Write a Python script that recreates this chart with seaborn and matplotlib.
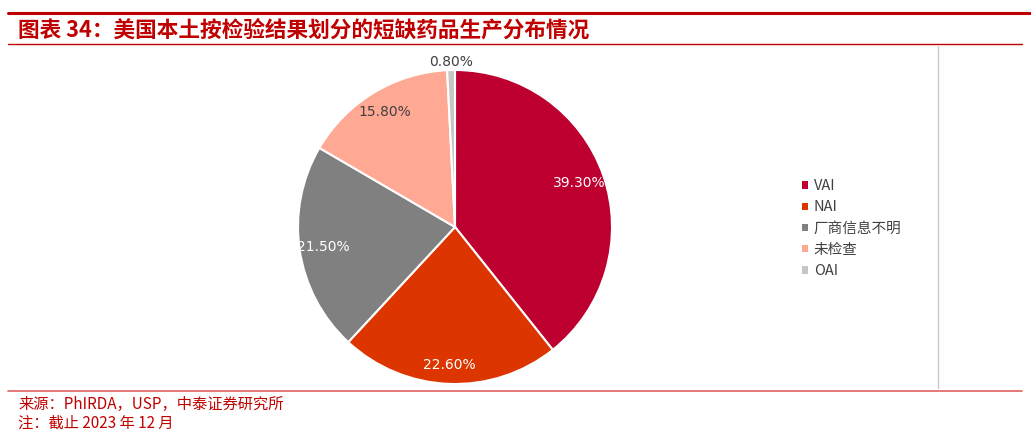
import matplotlib
matplotlib.use("Agg")
import matplotlib.pyplot as plt
from matplotlib.lines import Line2D
import seaborn as sns
import numpy as np

# --- datos ---
categorias = ["VAI", "NAI", "厂商信息不明", "未检查", "OAI"]
valores = [39.3, 22.6, 21.5, 15.8, 0.8]
colores = ["#BD0030", "#DC3500", "#808080", "#FFA994", "#C6C6C6"]
titulo = "图表 34：美国本土按检验结果划分的短缺药品生产分布情况"
fuente = "来源：PhIRDA，USP，中泰证券研究所"
nota = "注：截止 2023 年 12 月"

sns.set_theme(style="white")
plt.rcParams["font.family"] = ["Noto Sans CJK SC", "DejaVu Sans"]

W, H = 1031, 433
fig = plt.figure(figsize=(W / 100, H / 100), dpi=100)
fig.patch.set_facecolor("white")

def fx(px):
    return px / W

def fy(py):
    return 1 - py / H

# pie centrado en (455, 227) con radio ~157 px
cx, cy, r = 455, 227, 157
ax = fig.add_axes([fx(cx - r), fy(cy + r), 2 * r / W, 2 * r / H])
wedges, _ = ax.pie(valores, colors=colores, startangle=90, counterclock=False,
                   wedgeprops=dict(edgecolor="white", linewidth=1.5))
ax.set_xlim(-1, 1)
ax.set_ylim(-1, 1)
ax.set_aspect("equal")
ax.axis("off")

# etiquetas de porcentaje
dist = [0.84, 0.88, 0.85, 0.86, 1.05]
txt_col = ["white", "white", "white", "#404040", "#404040"]
for w, v, d, c in zip(wedges, valores, dist, txt_col):
    ang = np.deg2rad((w.theta1 + w.theta2) / 2)
    ax.text(d * np.cos(ang), d * np.sin(ang), f"{v:.2f}%", ha="center", va="center",
            fontsize=10, color=c, family="DejaVu Sans", clip_on=False)

# leyenda
leg = fig.legend(wedges, categorias, loc="upper left", bbox_to_anchor=(fx(789), fy(166)),
                 frameon=False, handlelength=0.4, handleheight=0.4, handletextpad=0.4,
                 labelspacing=0.5, fontsize=10.5)
for t in leg.get_texts():
    t.set_color("#404040")
for h in leg.legend_handles:
    h.set_edgecolor("none")

# título y líneas
rojo = "#C00000"
fig.add_artist(Line2D([fx(8), fx(1031)], [fy(13), fy(13)], color=rojo, lw=2.2))
fig.text(fx(18), fy(30), titulo, fontsize=15.6, fontweight="bold", color=rojo,
         ha="left", va="center")
fig.add_artist(Line2D([fx(8), fx(1022)], [fy(44), fy(44)], color=rojo, lw=1.0))
fig.add_artist(Line2D([fx(938), fx(938)], [fy(46), fy(388)], color="#C8C8C8", lw=1.0))
fig.add_artist(Line2D([fx(8), fx(1022)], [fy(391), fy(391)], color="#E06060", lw=1.2))

fig.text(fx(18), fy(404), fuente, fontsize=11, color=rojo, ha="left", va="center")
fig.text(fx(18), fy(423), nota, fontsize=11, color=rojo, ha="left", va="center")

fig.savefig("out.png", dpi=100, facecolor="white")
